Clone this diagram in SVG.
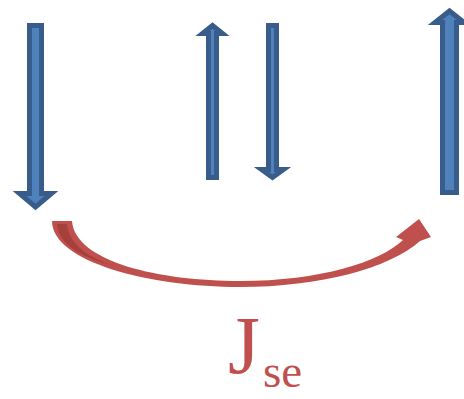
<svg xmlns="http://www.w3.org/2000/svg" width="464" height="399" viewBox="0 0 464 399">
<style>
.blk{fill:#4F81BD;stroke:#385D8A;stroke-width:5;stroke-linejoin:miter;stroke-miterlimit:10}
.red{fill:#C0504D}
.lbl{font-family:"Liberation Serif","Times New Roman","DejaVu Serif",serif;fill:#C0504D}
</style>
<g id="spin1"><polygon class="blk" points="29.5,25.5 41.5,25.5 41.5,193.5 51.5,193.5 35.5,207 19.5,193.5 29.5,193.5"/></g>
<g id="spin2"><polygon class="blk" points="208.5,177.5 216.5,177.5 216.5,33.5 222.5,33.5 212.5,25.5 202.5,33.5 208.5,33.5"/></g>
<g id="spin3"><polygon class="blk" points="268.5,25.5 276.5,25.5 276.5,169.5 283.5,169.5 272.5,177.5 261.5,169.5 268.5,169.5"/></g>
<g id="spin4"><polygon class="blk" points="442.5,192.5 456.5,192.5 456.5,22.5 464,22.5 449.5,11 435,22.5 442.5,22.5"/></g>
<g id="connectors">
<path class="red" d="M52,221 C52,262 150,287 240,287 C320,287 390,268 420,241 L431,237 L419,219 L396,237 L403,240 C380,262 320,281 240,281 C160,281 75,262 72,221 Z"/>
<path d="M57,224 L67,224 C69,244 88,258 115,266 C86,259 58,246 57,224 Z" fill="#943634" opacity="0.6"/>
</g>
<g id="label">
<text class="lbl" x="228" y="373" font-size="82">J</text>
<text class="lbl" x="263" y="387" font-size="47">se</text>
</g>
</svg>
